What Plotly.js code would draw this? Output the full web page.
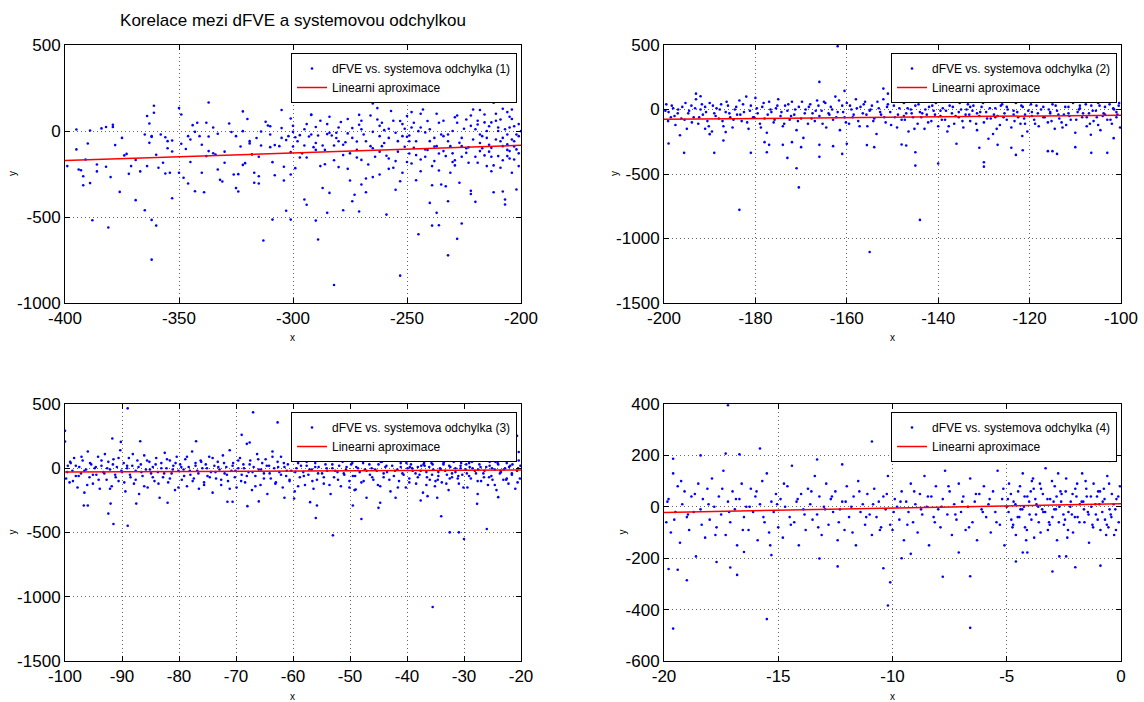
<!DOCTYPE html>
<html>
<head>
<meta charset="utf-8">
<script src="https://cdn.plot.ly/plotly-3.0.1.min.js"></script>
<style>
  html, body { margin: 0; padding: 0; background: #fff; }
  #chart { width: 1144px; height: 702px; }
</style>
</head>
<body>
<div id="chart"></div>
<script>
// Scatter of dFVE against the systematic deviation, four ranges, each with its linear fit.

const chartTitle = 'Korelace mezi dFVE a systemovou odchylkou';
const seriesNames = [
  'dFVE vs. systemova odchylka (1)',
  'dFVE vs. systemova odchylka (2)',
  'dFVE vs. systemova odchylka (3)',
  'dFVE vs. systemova odchylka (4)'
];
const fitName = 'Linearni aproximace';

// [x, y] pairs of measured points, range 1
const points1 = [
  [-399,-204],[-395,-107],[-395,9],[-394,-224],[-393,-228],[-392,-263],[-392,-315],[-391,-166],[-390,-73],[-389,3],
  [-389,-303],[-388,-519],[-386,-195],[-386,-235],[-384,15],[-382,23],[-382,-208],[-381,-561],[-380,-268],[-379,36],
  [-379,23],[-378,-82],[-376,-354],[-375,-40],[-374,-142],[-373,-133],[-372,-249],[-371,-204],[-369,-402],[-369,-169],
  [-367,-235],[-365,-461],[-364,-204],[-364,87],[-363,44],[-363,-69],[-362,-30],[-362,-748],[-362,-517],[-362,-34],
  [-361,147],[-361,106],[-360,-550],[-360,-138],[-359,-214],[-358,-20],[-357,-185],[-356,-247],[-356,-36],[-355,-59],
  [-354,-243],[-353,-391],[-353,-119],[-353,-55],[-350,133],[-350,-243],[-349,-74],[-349,96],[-348,-272],[-347,-105],
  [-346,-30],[-346,-305],[-345,-49],[-344,34],[-343,-350],[-343,-5],[-342,48],[-341,-30],[-340,-243],[-339,-356],
  [-338,-146],[-338,48],[-337,-32],[-337,-117],[-337,166],[-335,-129],[-334,-137],[-333,-16],[-333,-224],[-332,-284],
  [-331,-294],[-330,-185],[-328,44],[-327,-6],[-326,-253],[-325,-332],[-324,-352],[-324,-251],[-323,-90],[-322,-197],
  [-322,114],[-322,-1],[-321,-187],[-319,-59],[-319,-72],[-318,-136],[-317,-243],[-317,-301],[-316,-41],[-315,-263],
  [-315,-305],[-314,-3],[-313,-637],[-314,-84],[-312,54],[-311,32],[-310,-94],[-310,28],[-309,-515],[-309,-181],
  [-308,-257],[-308,-82],[-306,-88],[-305,122],[-305,17],[-304,-208],[-304,-288],[-303,-53],[-303,-464],[-302,-30],
  [-301,73],[-301,-253],[-301,-515],[-301,-123],[-300,-5],[-299,-216],[-299,-36],[-297,-24],[-297,-154],[-296,292],
  [-295,-84],[-295,-398],[-294,-429],[-294,-154],[-293,-32],[-292,96],[-292,93],[-291,-94],[-290,23],[-290,-521],
  [-289,-26],[-289,-631],[-288,-204],[-287,-84],[-287,-331],[-286,-193],[-285,-18],[-285,-476],[-284,-360],[-284,83],
  [-283,-26],[-282,-895],[-282,-84],[-281,-10],[-281,-41],[-280,-210],[-279,52],[-278,-140],[-278,-461],[-277,-65],
  [-276,-220],[-276,-14],[-275,188],[-275,-288],[-274,17],[-274,-408],[-273,-371],[-272,-154],[-272,-61],[-271,94],
  [-271,36],[-271,-468],[-270,-311],[-270,-168],[-269,-20],[-268,-356],[-268,-276],[-267,-195],[-266,-88],[-265,-5],
  [-265,160],[-265,-268],[-263,133],[-263,67],[-262,-30],[-262,-253],[-261,-88],[-261,48],[-260,5],[-259,-486],
  [-259,-144],[-258,-40],[-258,13],[-257,116],[-256,-214],[-255,-342],[-255,-175],[-254,-59],[-253,58],[-253,-292],
  [-253,-841],[-252,-243],[-251,-92],[-251,13],[-250,-34],[-250,87],[-249,-131],[-249,-26],[-248,-189],[-247,48],
  [-247,-98],[-246,-286],[-245,-600],[-245,-1],[-244,-166],[-244,-234],[-243,125],[-242,-107],[-242,-8],[-241,58],
  [-240,-418],[-240,-59],[-239,-204],[-239,-550],[-239,-315],[-238,-40],[-237,-88],[-237,-476],[-236,-131],[-236,48],
  [-236,-548],[-235,-311],[-234,-117],[-234,-30],[-233,-146],[-233,-321],[-232,-408],[-232,-723],[-231,-243],[-231,-88],
  [-230,0],[-229,-170],[-229,-200],[-228,48],[-228,-627],[-227,-301],[-227,-69],[-226,-538],[-226,-88],[-225,13],
  [-224,-127],[-224,67],[-223,-185],[-222,-366],[-222,-348],[-221,-49],[-221,125],[-220,-412],[-219,-185],[-219,38],
  [-218,-117],[-218,122],[-217,-30],[-216,96],[-216,-142],[-215,-204],[-215,-40],[-214,28],[-213,-234],[-213,-98],
  [-212,-356],[-212,164],[-211,-49],[-210,-146],[-210,0],[-209,-214],[-209,67],[-208,-88],[-208,129],[-208,-352],
  [-207,-398],[-207,-427],[-206,-146],[-206,-20],[-206,-78],[-205,83],[-205,-117],[-204,125],[-204,-243],[-204,-49],
  [-203,-166],[-203,28],[-202,-107],[-202,-340],[-201,-30],[-201,-204],[-200,-1],
  [-262,-120],[-258,-160],[-255,-10],[-252,40],[-249,-60],[-246,-140],[-244,20],[-241,-110],[-238,-175],[-235,-20],
  [-232,-60],[-229,80],[-226,-150],[-223,-95],[-220,10],[-218,-70],[-214,-120],[-211,60],[-208,-170],[-205,20],
  [-203,-60],[-201,-130],[-248,110],[-237,100],[-230,-130],[-222,90],[-213,50],[-206,110],[-265,-100],[-270,60],
  [-275,-130],[-280,-60],[-285,40],[-290,-110],[-295,10],[-300,-90],[-305,-40],
  [-300,30],[-298,-60],[-296,-130],[-294,40],[-292,-20],[-290,-70],[-288,60],[-286,-110],[-284,-10],[-282,-170],
  [-280,20],[-278,-80],[-276,70],[-274,-40],[-272,-110],[-270,10],[-268,-60],[-266,90],[-264,-150],[-262,30],
  [-260,-70],[-258,-220],[-256,60],[-254,-120],[-252,-30],[-250,-180],[-248,20],[-246,-60],[-244,100],[-242,-150],
  [-240,10],[-238,-90],[-236,-230],[-234,60],[-232,-20],[-230,-180],[-228,90],[-226,-40],[-224,-100],[-222,30],
  [-220,-150],[-218,-20],[-216,50],[-214,-80],[-212,-200],[-210,20],[-208,-40],[-206,-110],[-204,70],[-202,-20],
  [-201,40],[-203,-90],[-205,-160],[-207,10],[-209,-60],[-211,100],[-213,-150],[-215,0],[-217,-100],[-219,60],
  [-340,-80],[-335,20],[-330,-120],[-325,-30],[-320,70],[-315,-150],[-310,-20],[-345,-180],[-355,-100],[-365,-20]
];

// [x, y] pairs, range 2
const points2 = [
  [-162,490],[-166,214],[-148,292],[-152,162],[-151,123],[-160.5,144],[-193,123],[-192,103],[-183.5,-778],[-144,-856],
  [-155,-1105],[-170.5,-604],[-171,-456],[-173,-375],[-189,-336],[-195.6,-336],[-181,-336],[-199,-263],[-145,-435],[-140,-419],
  [-130,-443],[-130,-409],[-131,-297],[-124,-297],[-123,-352],[-121.5,-316],[-116,-323],[-115,-323],[-114,-344],[-110,-292],
  [-106.5,-336],[-103,-336],[-106.6,-196],[-101.6,-222],[-166,-367],[-166,-274],[-163,-284],[-161,-344],[-160,-266],[-155.6,-276],
  [-154,-292],[-145,-331],[-147,-279],[-148,-271],[-136,-266],[-127,-274],[-129,-227],[-121.6,-206],[-178,-253],[-177,-274],
  [-177.5,-331],[-174,-274],[-172,-253],[-170,-292],[-187,-240],[-186.5,-175],[-191,-149],[-190,-191],
  [-199.5,40],[-199,-20],[-198.5,-60],[-198,10],[-197.5,-120],[-197,-30],[-196.5,-200],[-196,20],[-195.5,-80],[-195,-150],
  [-194.5,-10],[-194,30],[-193.5,-60],[-193,80],[-192.5,-110],[-192,0],[-191.5,-40],[-191,20],[-190.5,-90],[-190,50],
  [-189.5,-170],[-189,-30],[-188.5,10],[-188,-70],[-187.5,40],[-187,-130],[-186.5,-20],[-186,30],[-185.5,-60],[-185,-140],
  [-184.5,0],[-184,-40],[-183.5,70],[-183,-90],[-182.5,-20],[-182,100],[-181.5,-150],[-181,30],[-180.5,-60],[-180,90],
  [-179.5,-30],[-179,-110],[-178.5,20],[-178,-70],[-177.5,-180],[-177,60],[-176.5,-20],[-176,-100],[-175.5,10],[-175,80],
  [-174.5,-50],[-174,-130],[-173.5,30],[-173,-10],[-172.5,-80],[-172,60],[-171.5,-40],[-171,-160],[-170.5,20],[-170,-70],
  [-169.5,-220],[-169,0],[-168.5,-110],[-168,40],[-167.5,-30],[-167,-90],[-166.5,70],[-166,-50],[-165.5,-10],[-165,60],
  [-164.5,-140],[-164,-30],[-163.5,20],[-163,-80],[-162.5,100],[-162,-20],[-161.5,-160],[-161,30],[-160.5,-60],[-160,50],
  [-159.5,-110],[-159,0],[-158.5,-40],[-158,80],[-157.5,-90],[-157,20],[-156.5,-30],[-156,60],[-155.5,-130],[-155,-10],
  [-154.5,30],[-154,-70],[-153.5,-190],[-153,10],[-152.5,-40],[-152,80],[-151.5,-100],[-151,40],[-150.5,-20],[-150,100],
  [-149.5,-60],[-149,-140],[-148.5,10],[-148,-80],[-147.5,50],[-147,-30],[-146.5,-170],[-146,0],[-145.5,-60],[-145,30],
  [-144.5,-110],[-144,-20],[-143.5,70],[-143,-150],[-142.5,-40],[-142,20],[-141.5,-90],[-141,-10],[-140.5,50],[-140,-130],
  [-139.5,-50],[-139,10],[-138.5,-80],[-138,-170],[-137.5,30],[-137,-30],[-136.5,-110],[-136,60],[-135.5,-60],[-135,0],
  [-134.5,-140],[-134,-40],[-133.5,40],[-133,-90],[-132.5,-10],[-132,80],[-131.5,-160],[-131,-50],[-130.5,20],[-130,-100],
  [-129.5,-20],[-129,60],[-128.5,-70],[-128,-190],[-127.5,10],[-127,-50],[-126.5,-120],[-126,40],[-125.5,-30],[-125,-80],
  [-124.5,90],[-124,-140],[-123.5,-10],[-123,50],[-122.5,-60],[-122,-110],[-121.5,20],[-121,-40],[-120.5,-170],[-120,70],
  [-119.5,-20],[-119,-80],[-118.5,30],[-118,-130],[-117.5,0],[-117,-60],[-116.5,80],[-116,-100],[-115.5,-30],[-115,40],
  [-114.5,-150],[-114,-10],[-113.5,-70],[-113,60],[-112.5,-40],[-112,-120],[-111.5,20],[-111,-80],[-110.5,50],[-110,-180],
  [-109.5,-20],[-109,10],[-108.5,-60],[-108,70],[-107.5,-130],[-107,-30],[-106.5,30],[-106,-90],[-105.5,-10],[-105,50],
  [-104.5,-160],[-104,-50],[-103.5,20],[-103,-80],[-102.5,40],[-102,-110],[-101.5,0],[-101,-60],[-100.5,30],[-100.2,-140],
  [-199.7,-10],[-199.1,-90],[-198.3,30],[-197.7,-50],[-196.9,0],[-196.2,-70],[-195.3,50],[-194.7,-30],[-193.9,-100],[-193.2,10],
  [-192.3,-60],[-191.7,40],[-190.8,-20],[-190.2,-130],[-189.3,30],[-188.7,-50],[-187.8,0],[-187.2,-90],[-186.3,60],[-185.7,-30],
  [-184.8,-80],[-184.2,20],[-183.3,-40],[-182.7,40],[-181.8,-100],[-181.2,-10],[-180.3,-60],[-179.7,10],[-178.8,-140],[-178.2,50],
  [-177.3,-40],[-176.7,0],[-175.8,-80],[-175.2,30],[-174.3,-20],[-173.7,-110],[-172.8,40],[-172.2,-50],[-171.3,0],[-170.7,-90],
  [-169.8,60],[-169.2,-30],[-168.3,20],[-167.7,-70],[-166.8,-10],[-166.2,30],[-165.3,-110],[-164.7,50],[-163.8,-40],[-163.2,0],
  [-162.3,-60],[-161.7,70],[-160.8,-20],[-160.2,-100],[-159.3,30],[-158.7,-60],[-157.8,10],[-157.2,-130],[-156.3,40],[-155.7,-40],
  [-154.8,0],[-154.2,-90],[-153.3,60],[-152.7,-20],[-151.8,-60],[-151.2,20],[-150.3,-120],[-149.7,30],[-148.8,-40],[-148.2,70],
  [-147.3,-80],[-146.7,10],[-145.8,-30],[-145.2,-150],[-144.3,40],[-143.7,-60],[-142.8,0],[-142.2,-100],[-141.3,30],[-140.7,-40],
  [-139.8,60],[-139.2,-80],[-138.3,-10],[-137.7,-130],[-136.8,20],[-136.2,-50],[-135.3,50],[-134.7,-90],[-133.8,0],[-133.2,-40],
  [-132.3,30],[-131.7,-110],[-130.8,-20],[-130.2,50],[-129.3,-70],[-128.7,10],[-127.8,-40],[-127.2,-150],[-126.3,30],[-125.7,-60],
  [-124.8,0],[-124.2,60],[-123.3,-90],[-122.7,-20],[-121.8,30],[-121.2,-70],[-120.3,-10],[-119.7,40],[-118.8,-110],[-118.2,-30],
  [-117.3,60],[-116.7,-60],[-115.8,0],[-115.2,-90],[-114.3,30],[-113.7,-40],[-112.8,-140],[-112.2,20],[-111.3,-50],[-110.7,70],
  [-109.8,-80],[-109.2,0],[-108.3,-30],[-107.7,40],[-106.8,-110],[-106.2,-10],[-105.3,-60],[-104.7,30],[-103.8,-30],[-103.2,60],
  [-102.3,-80],[-101.7,10],[-100.8,-40],[-100.4,50],
  [-135.5,-20],[-131.5,-30],[-127.5,-60],[-123.5,-40],[-119.5,-50],[-115.5,-20],[-111.5,-30],[-107.5,-60],[-103.5,-40],[-139.5,-10],
  [-143.5,-30],[-147.5,-50],[-133,20],[-125,20],[-117,20],[-109,30],[-101,-20],[-121,-110],[-113,-100],[-105,-120]
];

// [x, y] pairs, range 3
const points3 = [
  [-100,291],[-100,208],[-89,466],[-67,435],[-62.7,357],[-69,260],[-91.7,231],[-90.2,205],[-86.8,210],[-77,210],
  [-59,179],[-67.6,200],[-92.4,-353],[-91.5,-434],[-89,-447],[-56,-387],[-53,-522],[-48,-395],[-34,-374],[-35.5,-1080],
  [-32.5,-499],[-30.9,-499],[-30,-551],[-26,-473],[-20.7,252],[-20.4,127],[-24,-225],[-27.7,-277],[-92,-275],[-96.7,-290],
  [-96,-290],[-87.5,-275],[-82,-269],[-71.5,-261],[-70.6,-261],[-68,-295],[-66,-258],[-61.5,-230],[-59.8,-235],[-57,-264],
  [-55.8,-290],[-49.5,-290],[-49,-165],[-45,-308],[-44.7,-269],[-42,-230],[-37.6,-251],[-36.4,-217],[-34.7,-230],
  [-99.8,-80],[-99.5,20],[-99.2,-110],[-99,40],[-98.7,-20],[-98.4,80],[-98.1,-60],[-97.8,-150],[-97.5,10],[-97.2,-40],
  [-96.9,60],[-96.6,-190],[-96.3,-10],[-96,130],[-95.7,-70],[-95.4,30],[-95.1,-120],[-94.8,0],[-94.5,-50],[-94.2,90],
  [-93.9,-160],[-93.6,20],[-93.3,-30],[-93,110],[-92.7,-90],[-92.4,50],[-92.1,-10],[-91.8,-140],[-91.5,70],[-91.2,-50],
  [-90.9,10],[-90.6,-100],[-90.3,140],[-90,-30],[-89.7,40],[-89.4,-180],[-89.1,0],[-88.8,80],[-88.5,-70],[-88.2,20],
  [-87.9,-120],[-87.6,-20],[-87.3,60],[-87,-200],[-86.7,30],[-86.4,-60],[-86.1,100],[-85.8,-10],[-85.5,-150],[-85.2,50],
  [-84.9,-40],[-84.6,10],[-84.3,-100],[-84,80],[-83.7,-30],[-83.4,-230],[-83.1,40],[-82.8,-70],[-82.5,120],[-82.2,0],
  [-81.9,-110],[-81.6,60],[-81.3,-40],[-81,20],[-80.7,-170],[-80.4,90],[-80.1,-20],[-79.8,30],[-79.5,-90],[-79.2,-10],
  [-78.9,70],[-78.6,-140],[-78.3,10],[-78,-50],[-77.7,130],[-77.4,-80],[-77.1,40],[-76.8,-20],[-76.5,-160],[-76.2,60],
  [-75.9,0],[-75.6,-110],[-75.3,30],[-75,-60],[-74.7,90],[-74.4,-30],[-74.1,-190],[-73.8,20],[-73.5,-80],[-73.2,50],
  [-72.9,-10],[-72.6,-130],[-72.3,100],[-72,-40],[-71.7,10],[-71.4,-100],[-71.1,140],[-70.8,-20],[-70.5,40],[-70.2,-70],
  [-69.9,-150],[-69.6,0],[-69.3,80],[-69,-50],[-68.7,30],[-68.4,-110],[-68.1,190],[-67.8,-30],[-67.5,60],[-67.2,-170],
  [-66.9,10],[-66.6,-60],[-66.3,110],[-66,-10],[-65.7,-130],[-65.4,40],[-65.1,-40],[-64.8,70],[-64.5,-200],[-64.2,20],
  [-63.9,-80],[-63.6,130],[-63.3,0],[-63,-110],[-62.7,50],[-62.4,-30],[-62.1,90],[-61.8,-150],[-61.5,10],[-61.2,-60],
  [-60.9,30],[-60.6,-100],[-60.3,-20],[-60,60],[-59.7,-180],[-59.4,0],[-59.1,40],[-58.8,-70],[-58.5,100],[-58.2,-30],
  [-57.9,-130],[-57.6,20],[-57.3,-50],[-57,70],[-56.7,-10],[-56.4,-160],[-56.1,40],[-55.8,-90],[-55.5,10],[-55.2,80],
  [-54.9,-40],[-54.6,-120],[-54.3,30],[-54,-20],[-53.7,60],[-53.4,-200],[-53.1,0],[-52.8,-70],[-52.5,110],[-52.2,-30],
  [-51.9,20],[-51.6,-140],[-51.3,50],[-51,-50],[-50.7,-10],[-50.4,90],[-50.1,-100],[-49.8,30],[-49.5,-60],[-49.2,-170],
  [-48.9,10],[-48.6,70],[-48.3,-30],[-48,-110],[-47.7,40],[-47.4,-10],[-47.1,-230],[-46.8,60],[-46.5,-50],[-46.2,0],
  [-45.9,-90],[-45.6,100],[-45.3,-20],[-45,30],[-44.7,-140],[-44.4,50],[-44.1,-70],[-43.8,10],[-43.5,-30],[-43.2,80],
  [-42.9,-180],[-42.6,20],[-42.3,-60],[-42,120],[-41.7,-10],[-41.4,-100],[-41.1,40],[-40.8,-40],[-40.5,70],[-40.2,-150],
  [-39.9,0],[-39.6,-80],[-39.3,30],[-39,-20],[-38.7,90],[-38.4,-120],[-38.1,10],[-37.8,-50],[-37.5,60],[-37.2,-190],
  [-36.9,20],[-36.6,-30],[-36.3,100],[-36,-90],[-35.7,40],[-35.4,-10],[-35.1,-140],[-34.8,70],[-34.5,-60],[-34.2,0],
  [-33.9,-110],[-33.6,30],[-33.3,-20],[-33,80],[-32.7,-170],[-32.4,10],[-32.1,-70],[-31.8,50],[-31.5,-30],[-31.2,110],
  [-30.9,-120],[-30.6,20],[-30.3,-50],[-30,70],[-29.7,-10],[-29.4,-150],[-29.1,40],[-28.8,-80],[-28.5,0],[-28.2,90],
  [-27.9,-40],[-27.6,-200],[-27.3,30],[-27,-100],[-26.7,60],[-26.4,-20],[-26.1,10],[-25.8,-130],[-25.5,50],[-25.2,-60],
  [-24.9,100],[-24.6,-10],[-24.3,-170],[-24,30],[-23.7,-40],[-23.4,70],[-23.1,-90],[-22.8,0],[-22.5,40],[-22.2,-120],
  [-21.9,20],[-21.6,-50],[-21.3,80],[-21,-160],[-20.7,-20],[-20.4,60],[-20.2,-80],
  [-39.5,10],[-38.5,-40],[-37.5,20],[-36.5,-70],[-35.5,30],[-34.5,-30],[-33.5,50],[-32.5,-80],[-31.5,0],[-30.5,40],
  [-29.5,-40],[-28.5,60],[-27.5,-10],[-26.5,-70],[-25.5,20],[-24.5,50],[-23.5,-30],[-22.5,-80],[-21.5,30],[-20.5,0],
  [-35,-100],[-31,-60],[-27,90],[-23,-10],[-25,-90],[-29,10],[-33,-50],[-37,40],
  [-99.6,-30],[-99.1,50],[-98.6,-100],[-98.1,20],[-97.6,-60],[-97.1,90],[-96.6,-20],[-96.1,-130],[-95.6,40],[-95.1,-50],
  [-94.6,10],[-94.1,-90],[-93.6,60],[-93.1,-40],[-92.6,0],[-92.1,-160],[-91.6,30],[-91.1,-70],[-90.6,80],[-90.1,-20],
  [-89.6,-110],[-89.1,20],[-88.6,-50],[-88.1,110],[-87.6,-90],[-87.1,10],[-86.6,-30],[-86.1,-140],[-85.6,60],[-85.1,-10],
  [-84.6,-70],[-84.1,30],[-83.6,-120],[-83.1,0],[-82.6,-40],[-82.1,70],[-81.6,-80],[-81.1,-10],[-80.6,40],[-80.1,-150],
  [-79.6,10],[-79.1,-60],[-78.6,90],[-78.1,-20],[-77.6,-100],[-77.1,20],[-76.6,-40],[-76.1,50],[-75.6,-130],[-75.1,0],
  [-74.6,-70],[-74.1,80],[-73.6,-30],[-73.1,10],[-72.6,-90],[-72.1,40],[-71.6,-50],[-71.1,-160],[-70.6,20],[-70.1,-20],
  [-69.6,60],[-69.1,-100],[-68.6,0],[-68.1,-60],[-67.6,30],[-67.1,-30],[-66.6,-140],[-66.1,70],[-65.6,-10],[-65.1,-80],
  [-64.6,20],[-64.1,-40],[-63.6,90],[-63.1,-120],[-62.6,10],[-62.1,-50],[-61.6,40],[-61.1,-20],[-60.6,-90],[-60.1,60],
  [-59.6,-30],[-59.1,-140],[-58.6,20],[-58.1,-60],[-57.6,50],[-57.1,-10],[-56.6,-100],[-56.1,10],[-55.6,-40],[-55.1,80],
  [-54.6,-70],[-54.1,0],[-53.6,-130],[-53.1,30],[-52.6,-20],[-52.1,-90],[-51.6,60],[-51.1,-40],[-50.6,10],[-50.1,-150],
  [-49.6,40],[-49.1,-60],[-48.6,0],[-48.1,90],[-47.6,-100],[-47.1,-20],[-46.6,30],[-46.1,-70],[-45.6,-10],[-45.1,-130],
  [-44.6,50],[-44.1,-40],[-43.6,20],[-43.1,-90],[-42.6,70],[-42.1,-20],[-41.6,-150],[-41.1,10],[-40.6,-50],[-40.1,40],
  [-39.6,-110],[-39.1,0],[-38.6,60],[-38.1,-70],[-37.6,-20],[-37.1,30],[-36.6,-130],[-36.1,10],[-35.6,-50],[-35.1,80],
  [-34.6,-90],[-34.1,-10],[-33.6,40],[-33.1,-120],[-32.6,20],[-32.1,-40],[-31.6,70],[-31.1,-80],[-30.6,0],[-30.1,-150],
  [-29.6,30],[-29.1,-60],[-28.6,50],[-28.1,-20],[-27.6,-100],[-27.1,10],[-26.6,-40],[-26.1,80],[-25.6,-70],[-25.1,0],
  [-24.6,-130],[-24.1,40],[-23.6,-20],[-23.1,60],[-22.6,-90],[-22.1,10],[-21.6,-40],[-21.1,90],[-20.6,-110],[-20.1,20]
];

// [x, y] pairs, range 4
const points4 = [
  [-17.2,395],[-10.9,254],[-15.8,227],[-17.3,207],[-16.7,204],[-18.4,200],[-19.6,187],[-13.3,184],[-12.2,165],[-0.9,187],
  [-1.2,182],[-0.5,178],[-2.4,181],[-19.6,-474],[-15.5,-437],[-10.2,-384],[-6.6,-471],[-10.1,-294],[-19,-286],[-16.8,-265],
  [-19.8,-242],[-19.4,-245],[-18.6,-193],[-7.8,-272],[-6.6,-270],[-10.4,-239],[-3,-252],[-0.9,-229],[-2,-235],[-2.7,-193],
  [-2.4,-193],[-15.3,-188],[-13.2,-201],[-12.4,-232],[-9.6,-200],[-9.2,-183],[-7.1,-178],[-4.6,-213],[-4.3,-178],[-4.1,-178],
  [-17.7,-215],[-17.1,-236],[-16.5,-176],
  [-19.9,-60],[-19.8,30],[-19.7,-100],[-19.6,130],[-19.5,-20],[-19.4,80],[-19.3,-140],[-19.2,10],[-19.1,60],[-19,-40],
  [-18.9,-90],[-18.8,40],[-18.7,-20],[-18.5,90],[-18.4,-10],[-18.3,30],[-18.2,-120],[-18.1,70],[-18,-50],[-17.9,110],
  [-17.8,0],[-17.7,-80],[-17.6,40],[-17.5,-30],[-17.4,140],[-17.3,-110],[-17.2,20],[-17.1,-60],[-17,60],[-16.9,-10],
  [-16.8,-150],[-16.7,30],[-16.6,90],[-16.5,-40],[-16.4,0],[-16.3,-90],[-16.2,70],[-16.1,-20],[-16,40],[-15.9,-130],
  [-15.8,10],[-15.7,100],[-15.6,-60],[-15.5,130],[-15.4,-100],[-15.3,20],[-15.2,-20],[-15.1,50],[-15,-80],[-14.9,30],
  [-14.8,-120],[-14.7,0],[-14.6,80],[-14.5,-40],[-14.4,160],[-14.3,-60],[-14.2,20],[-14.1,-150],[-14,50],[-13.9,-10],
  [-13.8,-90],[-13.7,70],[-13.6,10],[-13.5,-50],[-13.4,120],[-13.3,-30],[-13.2,40],[-13.1,-110],[-13,0],[-12.9,90],
  [-12.8,-70],[-12.7,30],[-12.6,-20],[-12.5,60],[-12.4,-130],[-12.3,-10],[-12.2,20],[-12.1,-90],[-12,80],[-11.9,-40],
  [-11.8,0],[-11.7,40],[-11.6,-150],[-11.5,100],[-11.4,-20],[-11.3,10],[-11.2,-70],[-11.1,50],[-11,-30],[-10.9,-110],
  [-10.8,70],[-10.7,-40],[-10.6,20],[-10.5,-80],[-10.4,40],[-10.3,-10],[-10.2,120],[-10.1,-70],[-10,-90],[-9.9,30],
  [-9.8,0],[-9.7,-50],[-9.6,60],[-9.5,-130],[-9.4,20],[-9.3,-20],[-9.2,90],[-9.1,-60],[-9,10],[-8.9,-100],
  [-8.8,50],[-8.7,-30],[-8.6,120],[-8.5,0],[-8.4,-150],[-8.3,40],[-8.2,-40],[-8.1,80],[-8,-10],[-7.9,-80],
  [-7.8,30],[-7.7,140],[-7.6,-30],[-7.5,60],[-7.4,-110],[-7.3,10],[-7.2,-50],[-7.1,90],[-7,-20],[-6.9,40],
  [-6.8,-90],[-6.7,0],[-6.6,110],[-6.5,-60],[-6.4,20],[-6.3,-130],[-6.2,50],[-6.1,-10],[-6,80],[-5.9,-40],
  [-5.8,10],[-5.7,-100],[-5.6,60],[-5.5,-20],[-5.4,140],[-5.3,-70],[-5.2,30],[-5.1,-150],[-5,0],[-4.9,90],
  [-4.8,-50],[-4.7,20],[-4.6,-110],[-4.5,60],[-4.4,-10],[-4.3,130],[-4.2,-80],[-4.1,40],[-4,-30],[-3.9,100],
  [-3.8,-120],[-3.7,10],[-3.6,-60],[-3.5,70],[-3.4,-20],[-3.3,150],[-3.2,-90],[-3.1,30],[-3,-40],[-2.9,80],
  [-2.8,-130],[-2.7,0],[-2.6,50],[-2.5,-70],[-2.4,110],[-2.3,-20],[-2.2,20],[-2.1,-100],[-2,70],[-1.9,-40],
  [-1.8,10],[-1.7,130],[-1.6,-60],[-1.5,40],[-1.4,-140],[-1.3,0],[-1.2,90],[-1.1,-30],[-1,60],[-0.9,-90],
  [-0.8,20],[-0.7,-50],[-0.6,120],[-0.5,-10],[-0.4,50],[-0.3,-110],[-0.2,30],[-0.1,-60],[-0.05,80],
  [-4.95,30],[-4.45,-40],[-3.95,60],[-3.45,-10],[-2.95,20],[-2.45,-50],[-1.95,40],[-1.45,-20],[-0.95,10],[-0.45,-30],
  [-2.65,60],[-1.25,-70],[-3.15,-60],[-0.75,70],[-4.25,0],[-3.75,30],[-2.15,-30],[-1.65,20],[-0.25,-10],[-4.75,-80],
  [-3.55,90],[-2.85,-10],[-1.05,40],[-0.55,-80],
  [-19.85,20],[-19.55,-50],[-19.25,100],[-18.95,-30],[-18.65,50],[-18.35,-70],[-18.05,10],[-17.75,-110],[-17.45,70],[-17.15,-20],
  [-16.85,30],[-16.55,-90],[-16.25,0],[-15.95,60],[-15.65,-40],[-15.35,-150],[-15.05,10],[-14.75,90],[-14.45,-70],[-14.15,30],
  [-13.85,-30],[-13.55,60],[-13.25,-80],[-12.95,-10],[-12.65,40],[-12.35,-60],[-12.05,20],[-11.75,-100],[-11.45,60],[-11.15,-40],
  [-10.85,10],[-10.55,-90],[-10.25,50],[-9.95,-20],[-9.65,20],[-9.35,-70],[-9.05,60],[-8.75,-10],[-8.45,40],[-8.15,-60],
  [-7.85,0],[-7.55,80],[-7.25,-30],[-6.95,20],[-6.65,-80],[-6.35,50],[-6.05,-20],[-5.75,30],[-5.45,-60],[-5.15,70],
  [-4.92,-20],[-4.82,50],[-4.72,-70],[-4.62,10],[-4.52,-40],[-4.42,80],[-4.32,-10],[-4.22,40],[-4.12,-90],[-4.02,20],
  [-3.92,-50],[-3.82,70],[-3.72,-30],[-3.62,0],[-3.52,-100],[-3.42,50],[-3.32,-20],[-3.22,30],[-3.12,-70],[-3.02,100],
  [-2.92,-10],[-2.82,40],[-2.72,-60],[-2.62,20],[-2.52,-30],[-2.42,60],[-2.32,-90],[-2.22,0],[-2.12,50],[-2.02,-40],
  [-1.92,90],[-1.82,-60],[-1.72,20],[-1.62,-10],[-1.52,70],[-1.42,-30],[-1.32,40],[-1.22,-80],[-1.12,10],[-1.02,-50],
  [-0.92,60],[-0.82,-20],[-0.72,30],[-0.62,-70],[-0.52,90],[-0.42,-40],[-0.32,10],[-0.22,-90],[-0.12,40],[-3.85,110],
  [-2.35,-120],[-1.55,100],[-0.65,-110],[-4.15,-130],[-2.75,130]
];

// Linear fit end points per range
const fitX1 = [-400, -200], fitY1 = [-172, -83];
const fitX2 = [-200, -100], fitY2 = [-76, -44];
const fitX3 = [-100, -20],  fitY3 = [-29, -14];
const fitX4 = [-20, 0],     fitY4 = [-22, 12];

// Axis ranges and ticks
const xRanges = [[-400, -200], [-200, -100], [-100, -20], [-20, 0]];
const yRanges = [[-1000, 500], [-1500, 500], [-1500, 500], [-600, 400]];
const xTicks = [
  [-400, -350, -300, -250, -200],
  [-200, -180, -160, -140, -120, -100],
  [-100, -90, -80, -70, -60, -50, -40, -30, -20],
  [-20, -15, -10, -5, 0]
];
const yTicks = [
  [-1000, -500, 0, 500],
  [-1500, -1000, -500, 0, 500],
  [-1500, -1000, -500, 0, 500],
  [-600, -400, -200, 0, 200, 400]
];

const W = 1144, H = 702;
const FONT = "'Liberation Sans', Arial, Helvetica, sans-serif";

// plot boxes in pixels: [left, right, top, bottom]
const boxes = [
  [65, 521, 45, 303],
  [664, 1121, 45, 303],
  [65, 521, 404, 661],
  [664, 1121, 404, 661]
];

const pointSets = [points1, points2, points3, points4];
const fits = [[fitX1, fitY1], [fitX2, fitY2], [fitX3, fitY3], [fitX4, fitY4]];

const traces = [];
const layout = {
  width: W, height: H,
  margin: {l: 0, r: 0, t: 0, b: 0},
  paper_bgcolor: '#fff',
  plot_bgcolor: '#fff',
  font: {family: FONT, color: '#000'},
  title: {
    text: chartTitle,
    font: {family: FONT, size: 17, color: '#000'},
    x: 293 / W, xref: 'paper', xanchor: 'center',
    y: 1 - 20 / H, yref: 'paper', yanchor: 'middle'
  },
  annotations: [],
  showlegend: true
};

// negative tick values are written with a short hyphen
function fmtTick(v) {
  return v < 0 ? '-' + Math.abs(v) : String(v);
}

for (let i = 0; i < 4; i++) {
  const n = i + 1;
  const xa = n === 1 ? 'x' : 'x' + n;
  const ya = n === 1 ? 'y' : 'y' + n;
  const lg = n === 1 ? 'legend' : 'legend' + n;
  const pts = pointSets[i];

  traces.push({
    type: 'scatter', mode: 'markers',
    name: seriesNames[i],
    x: pts.map(p => p[0]), y: pts.map(p => p[1]),
    xaxis: xa, yaxis: ya, legend: lg,
    marker: {color: '#0000ff', size: 2.6, line: {width: 0}},
    cliponaxis: true, hoverinfo: 'x+y'
  });
  traces.push({
    type: 'scatter', mode: 'lines',
    name: fitName,
    x: fits[i][0], y: fits[i][1],
    xaxis: xa, yaxis: ya, legend: lg,
    line: {color: '#ff0000', width: 1.5}
  });

  const [l, r, t, b] = boxes[i];
  const axisCommon = {
    showline: true, linecolor: '#000', linewidth: 1, mirror: 'allticks',
    ticks: 'inside', ticklen: 5, tickcolor: '#000', tickwidth: 1,
    showgrid: true, gridcolor: '#666', griddash: '1px,3px', gridwidth: 1,
    zeroline: false, fixedrange: true,
    tickfont: {family: FONT, size: 17, color: '#000'}
  };
  layout['xaxis' + (n === 1 ? '' : n)] = Object.assign({}, axisCommon, {
    domain: [l / W, r / W], anchor: ya,
    range: xRanges[i], tickmode: 'array',
    tickvals: xTicks[i], ticktext: xTicks[i].map(fmtTick)
  });
  layout['yaxis' + (n === 1 ? '' : n)] = Object.assign({}, axisCommon, {
    domain: [1 - b / H, 1 - t / H], anchor: xa,
    range: yRanges[i], tickmode: 'array',
    tickvals: yTicks[i], ticktext: yTicks[i].map(fmtTick)
  });

  layout[lg] = {
    x: (r - 4) / W, xanchor: 'right', xref: 'paper',
    y: 1 - (t + 8) / H, yanchor: 'top', yref: 'paper',
    bgcolor: '#fff', bordercolor: '#000', borderwidth: 1,
    font: {family: FONT, size: 12, color: '#000'},
    itemwidth: 30, tracegroupgap: 0
  };

  // axis names
  layout.annotations.push({
    text: 'x', xref: 'paper', yref: 'paper',
    x: (l + r) / 2 / W, y: 1 - (b + 35) / H,
    xanchor: 'center', yanchor: 'middle', showarrow: false,
    font: {family: FONT, size: 10, color: '#000'}
  });
  layout.annotations.push({
    text: 'y', xref: 'paper', yref: 'paper',
    x: (i % 2 === 0 ? 12 : (i === 1 ? 614 : 622)) / W, y: 1 - (t + b) / 2 / H,
    xanchor: 'center', yanchor: 'middle', showarrow: false, textangle: -90,
    font: {family: FONT, size: 10, color: '#000'}
  });
}

Plotly.newPlot('chart', traces, layout, {staticPlot: true, displayModeBar: false});
</script>
</body>
</html>
